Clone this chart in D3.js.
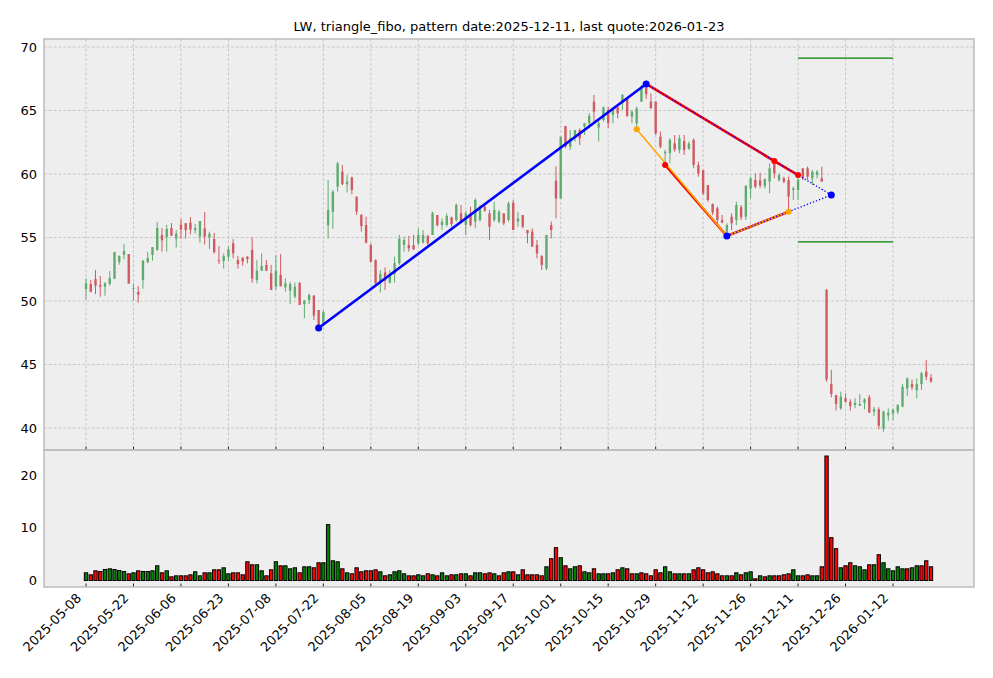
<!DOCTYPE html>
<html><head><meta charset="utf-8">
<script src="https://cdn.jsdelivr.net/npm/d3@7"></script>
<style>body{margin:0;background:#fff} text{font-family:"DejaVu Sans",sans-serif}</style>
</head><body><svg id="c" width="993" height="678"></svg>
<script>
const titleText = "LW, triangle_fibo, pattern date:2025-12-11, last quote:2026-01-23";
const tickLabels = ["2025-05-08","2025-05-22","2025-06-06","2025-06-23","2025-07-08","2025-07-22","2025-08-05","2025-08-19","2025-09-03","2025-09-17","2025-10-01","2025-10-15","2025-10-29","2025-11-12","2025-11-26","2025-12-11","2025-12-26","2026-01-12"];
const tickIndex = [0,10,20,30,40,50,60,70,80,90,100,110,120,130,140,150,160,170];
const priceTicks = [40,45,50,55,60,65,70];
const volTicks = [0,10,20];

const opens = [50.95,51.34,51.73,51.26,51.13,51.34,51.76,53.07,53.65,53.70,50.97,50.71,51.65,53.05,53.62,54.02,55.20,55.01,55.75,54.91,56.01,56.12,56.17,55.57,55.07,55.72,54.99,54.88,53.23,53.15,53.49,54.54,53.23,53.41,53.49,54.02,51.65,52.39,52.84,52.18,51.13,52.05,51.08,50.81,50.34,51.44,49.76,50.08,50.42,49.29,48.24,55.98,57.03,59.00,60.18,59.19,59.74,58.22,56.77,55.98,54.41,53.23,51.57,52.26,51.44,52.13,52.97,54.41,54.41,54.41,54.54,54.60,55.12,55.20,56.77,55.98,55.98,56.59,56.38,56.90,56.00,56.90,56.25,56.38,57.43,56.90,56.38,56.25,56.90,56.38,57.74,56.25,56.77,55.59,55.46,54.41,53.54,52.57,55.98,59.47,58.08,63.78,62.15,62.94,63.46,63.73,63.99,65.70,63.67,64.25,65.04,64.65,65.25,65.57,65.96,64.51,63.99,65.70,66.80,65.70,65.70,62.94,61.63,61.63,62.42,61.89,62.60,62.00,62.68,60.71,60.31,59.13,57.64,57.30,56.38,55.46,56.64,56.38,57.38,56.64,58.87,59.53,59.50,59.06,59.40,60.97,59.53,59.66,59.53,58.74,58.74,60.45,60.45,59.66,59.92,59.66,50.87,43.46,42.60,41.55,42.34,42.07,41.81,41.76,41.99,42.41,41.29,41.47,39.97,41.00,41.16,41.29,41.68,43.12,43.46,42.99,43.46,44.44,43.96];
const highs = [51.79,51.65,52.44,51.97,51.50,52.36,53.86,53.60,54.49,53.70,51.39,51.18,53.23,53.86,54.25,56.22,55.75,56.01,56.14,55.59,56.46,56.14,56.61,56.06,56.30,57.01,55.46,55.36,54.33,53.75,54.33,54.88,53.54,53.44,53.54,55.01,53.23,53.75,53.23,52.84,53.62,53.70,51.79,51.52,51.44,51.47,50.08,50.60,50.47,49.29,49.29,59.53,58.74,60.97,60.71,59.92,59.79,58.22,56.85,56.64,54.54,53.28,52.44,52.65,52.44,53.49,55.20,55.07,55.12,55.20,55.72,55.59,55.20,57.03,56.77,56.51,56.90,56.64,57.69,57.56,57.10,57.43,58.09,57.56,57.69,57.17,57.82,57.17,56.90,57.82,57.95,57.03,56.77,55.59,55.72,54.80,53.62,55.20,56.25,60.60,62.94,63.78,63.46,63.46,63.60,63.99,64.78,66.22,64.25,65.30,65.30,65.17,65.30,66.30,65.96,65.04,65.30,67.01,67.09,66.35,65.70,63.33,61.89,62.81,63.07,63.07,63.07,62.55,62.81,60.97,60.31,59.13,57.69,57.43,56.77,56.12,56.90,57.82,57.56,59.13,59.79,60.05,60.10,59.66,60.84,61.02,60.05,59.79,59.79,59.00,59.92,60.45,60.58,60.31,60.31,60.58,50.95,44.57,42.60,42.86,42.73,42.26,42.34,42.68,42.34,42.60,41.68,41.63,41.37,41.55,41.55,41.89,43.46,43.99,43.83,43.91,44.44,45.35,44.25];
const lows = [50.13,50.68,50.55,50.34,50.42,51.21,51.73,52.86,53.28,51.37,50.00,49.87,50.97,52.97,53.18,53.96,53.89,53.89,55.14,54.20,54.88,54.91,55.25,55.30,54.59,54.44,54.09,53.73,52.91,52.55,53.15,53.36,52.55,52.78,52.97,51.44,51.39,52.39,52.39,50.87,50.87,51.13,50.74,49.76,50.21,49.69,48.64,49.76,48.50,47.87,48.03,54.93,55.67,58.61,59.13,58.53,58.40,56.77,55.46,54.54,53.02,51.26,50.66,50.87,51.39,51.44,52.84,53.89,53.89,54.02,54.41,54.54,54.41,55.20,55.85,55.59,55.85,55.85,56.25,56.12,55.20,55.85,55.72,56.25,57.03,54.80,56.25,56.12,55.98,56.25,55.59,55.85,55.72,54.54,54.28,53.36,52.44,52.44,54.93,56.51,58.08,62.02,61.89,62.55,62.28,63.07,63.60,63.99,62.55,64.12,63.60,63.99,64.38,65.04,64.51,63.99,63.52,65.70,65.90,65.17,63.07,62.02,60.71,60.84,61.76,61.63,61.50,61.89,60.45,59.79,58.35,57.82,56.77,56.12,56.12,55.12,55.59,55.98,56.38,56.38,58.09,58.87,58.90,58.87,58.48,59.66,59.40,59.27,57.03,57.95,57.95,59.53,59.53,59.13,59.66,59.40,43.65,42.41,41.37,41.42,41.99,41.37,41.55,41.73,41.47,41.21,40.95,39.90,39.71,40.58,40.63,41.10,41.63,42.52,43.00,42.34,43.00,43.78,43.57];
const closes = [51.39,50.74,51.21,51.13,51.39,51.81,53.86,53.54,53.94,51.37,51.02,50.50,53.18,53.39,54.25,55.75,54.78,55.67,55.14,55.30,55.62,55.59,55.62,55.75,56.30,55.07,55.30,53.86,53.18,53.54,54.07,53.75,52.91,53.10,53.31,51.76,52.39,52.76,52.39,50.87,52.39,51.18,51.39,51.34,51.13,49.69,50.03,50.47,48.85,47.98,49.13,57.17,58.61,60.84,59.19,59.40,58.74,57.03,55.90,54.59,53.10,51.39,52.13,51.60,51.97,52.97,54.90,54.80,54.15,54.07,55.20,55.20,54.54,56.95,55.98,56.25,56.69,56.06,57.56,56.25,56.90,55.98,57.95,57.30,57.11,55.85,57.17,57.03,56.12,57.69,55.59,56.51,55.85,55.33,54.28,53.75,52.84,55.20,55.59,58.08,62.94,62.15,62.81,63.46,62.81,63.99,64.57,64.91,63.99,65.25,63.99,65.04,64.78,66.22,64.57,64.91,65.17,66.88,66.30,65.17,63.20,62.15,61.76,62.68,61.94,62.81,61.90,62.40,60.71,60.05,58.48,57.95,56.96,56.38,56.17,55.98,56.12,57.56,56.59,59.06,59.66,59.00,59.10,59.58,60.45,60.05,59.92,59.40,58.22,58.87,59.53,59.66,59.79,60.18,60.18,59.40,43.83,42.68,41.89,42.47,42.07,41.73,41.99,41.89,42.26,41.21,41.47,40.18,41.29,41.20,41.42,41.81,43.25,43.91,43.20,43.46,44.31,44.04,43.65];
const volumes = [1.46,1.08,1.84,1.71,2.09,2.22,2.09,1.9,1.71,1.27,1.46,1.84,1.71,1.71,1.84,2.79,1.46,1.84,0.7,0.89,0.89,0.89,1.08,1.65,0.89,1.46,1.46,2.03,2.03,2.41,1.27,1.46,1.46,1.08,3.55,2.98,2.98,1.84,0.89,2.03,3.55,2.79,2.79,2.22,2.41,1.46,2.6,2.6,2.41,3.36,3.36,10.6,3.74,3.55,2.22,1.46,1.27,2.41,1.65,1.84,
1.84,2.03,1.65,0.89,1.08,1.65,1.84,1.27,0.89,0.89,1.08,0.89,1.27,1.08,0.89,1.46,0.89,1.08,1.08,1.27,1.27,0.89,1.46,1.46,1.27,1.46,1.27,0.89,1.46,1.65,1.65,1.08,2.03,1.08,1.08,1.08,0.89,2.6,4.13,6.22,4.32,2.79,2.22,2.6,2.79,1.65,1.46,2.22,1.27,1.27,1.27,1.46,2.03,2.41,2.22,1.27,1.27,1.46,1.27,0.89,2.03,
1.46,2.6,1.65,1.27,1.27,1.27,1.27,2.03,2.41,2.03,1.46,1.65,1.27,0.89,0.89,0.89,1.46,1.08,1.46,1.65,0.32,0.89,0.7,0.89,0.89,0.89,1.08,1.27,2.03,0.89,0.89,1.08,0.89,0.89,2.6,23.6,8.13,6.03,2.41,2.79,3.36,2.79,2.6,2.03,2.98,2.98,4.89,3.36,2.22,1.84,2.6,2.22,2.22,2.41,2.79,2.79,3.74,2.6];
const volDir = "grrrgggggrgrggggrgrgrrrggrgrrggrrrrrggrrgrgggrggrrggggrgrrrr" +
  "rrgrggggrrggrgrggrgrgrggrrgrrgrgrrrrrgrrgrggrggrggrgrgrrgrrrr" +
  "rggrgrgrrrrrrrgrgrggrgrgrrrrggrrggrrrrgrrgggrgrgggggrggrrr";

const blueSolid = [[49,47.87],[118,67.09]];
const blueDotUpper = [[118,67.09],[157,58.35]];
const blueDotLower = [[135,55.12],[157,58.35]];
const redUpper = [[118,67.09],[145,61.02],[150,59.92]];
const redLower = [[122,60.71],[135,55.12],[148,57.03]];
const orangeLine = [[116,63.52],[135,55.12],[148,57.03]];
const blueDots = [[49,47.87],[118,67.09],[135,55.12],[157,58.35]];
const redDots = [[122,60.71],[145,61.02],[150,59.92]];
const orangeDots = [[116,63.52],[148,57.03]];
const levelRange = [150,170];
const levels = [69.13,54.65];

const svg = d3.select("#c");
const L=44,R=974,PT=39,PB=450,VB=587;
const x = d3.scaleLinear().domain([-8.85,187.06]).range([L,R]);
const yP = d3.scaleLinear().domain([38.27,70.63]).range([PB,PT]);
const yV = d3.scaleLinear().domain([-1.23,24.74]).range([VB,PB]);

svg.append("text").attr("x",(L+R)/2).attr("y",31).attr("text-anchor","middle").attr("font-size",13).text(titleText);

// panels
svg.append("rect").attr("x",L).attr("y",PT).attr("width",R-L).attr("height",PB-PT).attr("fill","#eeeeee");
svg.append("rect").attr("x",L).attr("y",PB).attr("width",R-L).attr("height",VB-PB).attr("fill","#eeeeee");

const gridC = "#b6b6b6";
const pg = svg.append("g");
pg.selectAll("line.gx").data(tickIndex).join("line").attr("x1",d=>x(d)).attr("x2",d=>x(d)).attr("y1",PT).attr("y2",PB)
  .attr("stroke",gridC).attr("stroke-width",0.7).attr("stroke-dasharray","2.8,2");
pg.selectAll("line.gy").data(priceTicks).join("line").attr("x1",L).attr("x2",R).attr("y1",d=>yP(d)).attr("y2",d=>yP(d))
  .attr("stroke",gridC).attr("stroke-width",0.7).attr("stroke-dasharray","2.8,2");

// candles
const idx = d3.range(opens.length);
const up = i => closes[i] >= opens[i];
const gCol = "#5fab6e", rCol = "#cf5a5f";
const cg = svg.append("g");
cg.selectAll("line").data(idx).join("line")
  .attr("x1",i=>x(i)).attr("x2",i=>x(i)).attr("y1",i=>yP(highs[i])).attr("y2",i=>yP(lows[i]))
  .attr("stroke",i=>up(i)?gCol:rCol).attr("stroke-width",1);
const bw = (x(1)-x(0))*0.5;
cg.selectAll("rect").data(idx).join("rect")
  .attr("x",i=>x(i)-bw/2).attr("width",bw)
  .attr("y",i=>yP(Math.max(opens[i],closes[i])))
  .attr("height",i=>Math.max(0.8, Math.abs(yP(opens[i])-yP(closes[i]))))
  .attr("fill",i=>up(i)?gCol:rCol);

// overlays
const line = d3.line().x(d=>x(d[0])).y(d=>yP(d[1]));
const og = svg.append("g");
og.append("path").attr("d",line(blueSolid)).attr("fill","none").attr("stroke","#0000ff").attr("stroke-width",2.6);
og.append("path").attr("d",line(redUpper)).attr("fill","none").attr("stroke","#ff0000").attr("stroke-width",2.6);
og.append("path").attr("d",line(redLower)).attr("fill","none").attr("stroke","#ff0000").attr("stroke-width",2.6);
og.append("path").attr("d",line(orangeLine)).attr("fill","none").attr("stroke","#ffa500").attr("stroke-width",1.5);
[blueDotUpper,blueDotLower].forEach(s=>og.append("path").attr("d",line(s)).attr("fill","none").attr("stroke","#0000ff").attr("stroke-width",1.3).attr("stroke-dasharray","1.3,2"));
levels.forEach(v=>og.append("line").attr("x1",x(levelRange[0])).attr("x2",x(levelRange[1])).attr("y1",yP(v)).attr("y2",yP(v)).attr("stroke","#008000").attr("stroke-width",1.3));
og.selectAll("circle.b").data(blueDots).join("circle").attr("cx",d=>x(d[0])).attr("cy",d=>yP(d[1])).attr("r",3.5).attr("fill","#0000ff");
og.selectAll("circle.r").data(redDots).join("circle").attr("cx",d=>x(d[0])).attr("cy",d=>yP(d[1])).attr("r",3).attr("fill","#ff0000");
og.selectAll("circle.o").data(orangeDots).join("circle").attr("cx",d=>x(d[0])).attr("cy",d=>yP(d[1])).attr("r",3).attr("fill","#ffa500");

// volume
const vw = (x(1)-x(0))*0.7;
svg.append("g").selectAll("rect").data(idx).join("rect")
  .attr("x",i=>x(i)-vw/2).attr("width",vw).attr("y",i=>yV(volumes[i])).attr("height",i=>yV(0)-yV(volumes[i]))
  .attr("fill",i=>volDir[i]==="g"?"#008000":"#ff0000").attr("stroke","#000").attr("stroke-width",1);

// ticks
const tk = svg.append("g");
tickIndex.forEach(t=>{
  tk.append("line").attr("x1",x(t)).attr("x2",x(t)).attr("y1",PB-3.5).attr("y2",PB).attr("stroke","#222").attr("stroke-width",1);
  tk.append("line").attr("x1",x(t)).attr("x2",x(t)).attr("y1",VB-3.5).attr("y2",VB).attr("stroke","#222").attr("stroke-width",1);
});
tk.selectAll("text.xl").data(tickIndex).join("text").attr("font-size",13).attr("text-anchor","end")
  .attr("transform",(d)=>`translate(${x(d)-4},${VB+12}) rotate(-45)`).text((d,i)=>tickLabels[i]);
tk.selectAll("text.yl").data(priceTicks).join("text").attr("font-size",13).attr("text-anchor","end")
  .attr("x",37).attr("y",d=>yP(d)+4.5).text(d=>d);
tk.selectAll("text.vl").data(volTicks).join("text").attr("font-size",13).attr("text-anchor","end")
  .attr("x",37).attr("y",d=>yV(d)+4.5).text(d=>d);

// frames
svg.append("rect").attr("x",L).attr("y",PT).attr("width",R-L).attr("height",PB-PT).attr("fill","none").attr("stroke","#bcbcbc").attr("stroke-width",1.5);
svg.append("rect").attr("x",L).attr("y",PB).attr("width",R-L).attr("height",VB-PB).attr("fill","none").attr("stroke","#bcbcbc").attr("stroke-width",1.5);
</script></body></html>
